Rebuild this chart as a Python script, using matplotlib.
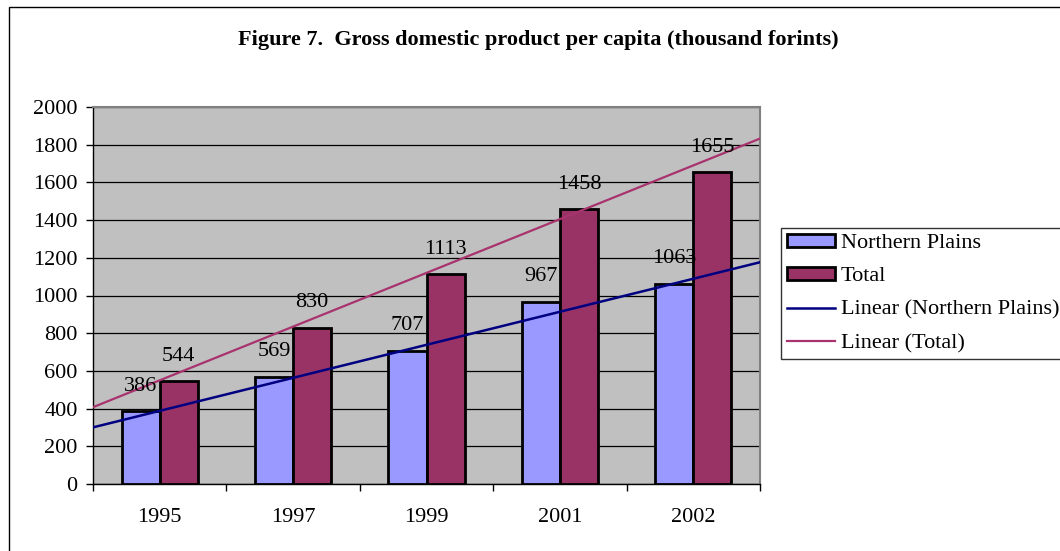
import matplotlib.pyplot as plt
import numpy as np
from matplotlib.patches import Rectangle, Patch
from matplotlib.lines import Line2D

years = ['1995', '1997', '1999', '2001', '2002']
northern_plains = [386, 569, 707, 967, 1063]
total = [544, 830, 1113, 1458, 1655]

plt.rcParams['font.family'] = ['Liberation Serif', 'DejaVu Serif']

fig = plt.figure(figsize=(10.6, 5.51), dpi=100)
ax = fig.add_axes([93 / 1060, 67 / 551, 667 / 1060, 377 / 551])
ax.set_facecolor('#C0C0C0')

x = np.arange(len(years))
w = 1 / 3.5  # gap width 150%

b1 = ax.bar(x - w / 2, northern_plains, w, color='#9999FF', edgecolor='black', linewidth=2, zorder=3)
b2 = ax.bar(x + w / 2, total, w, color='#993366', edgecolor='black', linewidth=2, zorder=3)

# value labels above each bar
for rects, vals in ((b1, northern_plains), (b2, total)):
    for r, v in zip(rects, vals):
        ax.annotate(str(v), (r.get_x() + r.get_width() / 2, v), xytext=(0, 11),
                    textcoords='offset points', ha='center', va='bottom',
                    fontsize=16, zorder=5)

# linear trend lines across the whole plot area
xt = np.array([-0.5, len(years) - 0.5])
k1, c1 = np.polyfit(x, northern_plains, 1)
k2, c2 = np.polyfit(x, total, 1)
ax.plot(xt, k1 * xt + c1, color='#000080', linewidth=1.8, zorder=4)
ax.plot(xt, k2 * xt + c2, color='#A8336E', linewidth=1.6, zorder=4)

ax.set_xlim(-0.5, len(years) - 0.5)
ax.set_ylim(0, 2000)
ax.set_yticks(range(0, 2001, 200))
ax.yaxis.grid(True, color='black', linewidth=0.9, zorder=1)
ax.set_axisbelow(True)

ax.set_xticks(x)
ax.set_xticklabels(years)
ax.set_xticks(np.arange(-0.5, len(years)), minor=True)
ax.tick_params(axis='x', which='major', length=0, pad=17, labelsize=16)
ax.tick_params(axis='x', which='minor', length=5, width=1, color='black')
ax.tick_params(axis='y', length=5, width=1, pad=6, labelsize=16)

for side in ('top', 'right'):
    ax.spines[side].set_color('#808080')
    ax.spines[side].set_linewidth(1.5)
for side in ('left', 'bottom'):
    ax.spines[side].set_color('black')
    ax.spines[side].set_linewidth(1)

fig.text(538 / 1060, 1 - 40 / 551, 'Figure 7.  Gross domestic product per capita (thousand forints)',
         ha='center', va='center', fontsize=16, fontweight='bold')

handles = [
    Patch(facecolor='#9999FF', edgecolor='black', linewidth=2),
    Patch(facecolor='#993366', edgecolor='black', linewidth=2),
    Line2D([], [], color='#000080', linewidth=1.8),
    Line2D([], [], color='#A8336E', linewidth=1.6),
]
labels = ['Northern Plains', 'Total', 'Linear (Northern Plains)', 'Linear (Total)']
leg = fig.legend(handles, labels, loc='upper left', bbox_to_anchor=(781 / 1060, 1 - 228 / 551),
                 fontsize=16, frameon=True, fancybox=False, edgecolor='black',
                 borderpad=0.25, labelspacing=0.62, handlelength=2.2, handleheight=0.55,
                 handletextpad=0.25, borderaxespad=0)
leg.get_frame().set_linewidth(1)

# outer chart border
fig.patches.append(Rectangle((9 / 1060, -0.05), 1.1, 1.05 - 7 / 551, transform=fig.transFigure,
                             fill=False, edgecolor='black', linewidth=1))

fig.savefig('out.png', dpi=100)
